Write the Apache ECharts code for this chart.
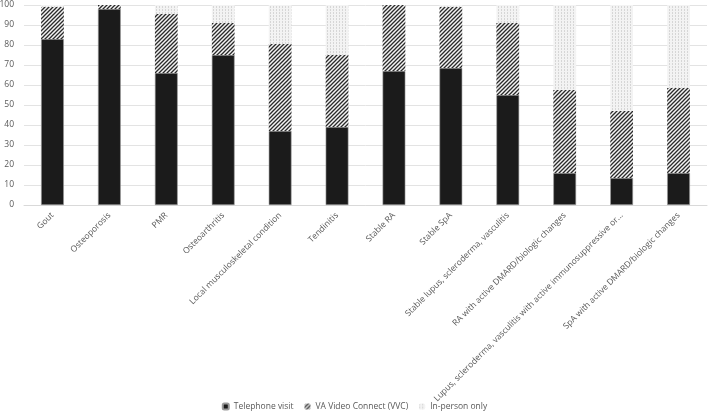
<!DOCTYPE html>
<html><head><meta charset="utf-8">
<script src="https://cdn.jsdelivr.net/npm/echarts@6/dist/echarts.min.js"></script>
<style>html,body{margin:0;padding:0;background:#fff}#c{width:709px;height:414px}</style>
</head><body><div id="c"></div>
<script>
const categories = ["Gout","Osteoporosis","PMR","Osteoarthritis","Local musculoskeletal condition","Tendinitis","Stable RA","Stable SpA","Stable lupus, scleroderma, vasculitis","RA with active DMARD/biologic changes","Lupus, scleroderma, vasculitis with active immunosuppressive or...","SpA with active DMARD/biologic changes"];
const telephone = [83, 98, 66, 75, 37, 39, 67, 68.5, 55, 16, 13.5, 16];
const vvc = [16, 2, 29.5, 16, 43.5, 36, 33, 30.5, 36, 41.5, 33.5, 42.5];
const inPerson = [1, 0, 4.5, 9, 19.5, 25, 0, 1, 9, 42.5, 53, 41.5];
const yTicks = [0,10,20,30,40,50,60,70,80,90,100];

function hatch(){
  const c = document.createElement('canvas'); c.width = 4; c.height = 4;
  const g = c.getContext('2d');
  g.fillStyle = '#f4f4f4'; g.fillRect(0,0,4,4);
  g.strokeStyle = '#2a2a2a'; g.lineWidth = 1.3;
  g.beginPath();
  g.moveTo(-1,5); g.lineTo(5,-1);
  g.moveTo(-1,1); g.lineTo(1,-1);
  g.moveTo(3,5); g.lineTo(5,3);
  g.stroke();
  return c;
}
function dots(){
  const c = document.createElement('canvas'); c.width = 3; c.height = 3;
  const g = c.getContext('2d');
  g.fillStyle = '#f3f3f3'; g.fillRect(0,0,3,3);
  g.fillStyle = '#d6d6d6'; g.fillRect(0,0,1,2);
  return c;
}
const chart = echarts.init(document.getElementById('c'), null, {renderer:'canvas'});
const font = '"Open Sans", "Noto Sans", sans-serif';
chart.setOption({
  animation:false,
  textStyle:{fontFamily:font},
  grid:{left:24, right:2, top:5, bottom:209, containLabel:false, outerBoundsMode:'none'},
  legend:{
    top:397, left:'center', itemWidth:6, itemHeight:6, itemGap:11,
    textStyle:{fontSize:8.5, color:'#595959', fontFamily:font},
    data:['Telephone visit','VA Video Connect (VVC)','In-person only']
  },
  xAxis:{
    type:'category', data:categories,
    axisLine:{lineStyle:{color:'#d9d9d9'}}, axisTick:{show:false},
    axisLabel:{rotate:45, fontSize:8.5, color:'#595959', interval:0, margin:9, fontFamily:font}
  },
  yAxis:{
    type:'value', min:0, max:100, interval:10,
    axisLine:{show:false}, axisTick:{show:false},
    splitLine:{lineStyle:{color:'#e3e3e3'}},
    axisLabel:{fontSize:8.5, color:'#595959', margin:10, fontFamily:font,
      formatter:v=> yTicks.includes(v)? String(v): ''}
  },
  series:[
    {name:'Telephone visit', type:'bar', stack:'s', barWidth:'40%', data:telephone,
      itemStyle:{color:'#1b1b1b', borderColor:'#9a9a9a', borderWidth:0.6}},
    {name:'VA Video Connect (VVC)', type:'bar', stack:'s', data:vvc,
      itemStyle:{color:{image:hatch(), repeat:'repeat'}}},
    {name:'In-person only', type:'bar', stack:'s', data:inPerson,
      itemStyle:{color:{image:dots(), repeat:'repeat'}}}
  ]
});
</script></body></html>
